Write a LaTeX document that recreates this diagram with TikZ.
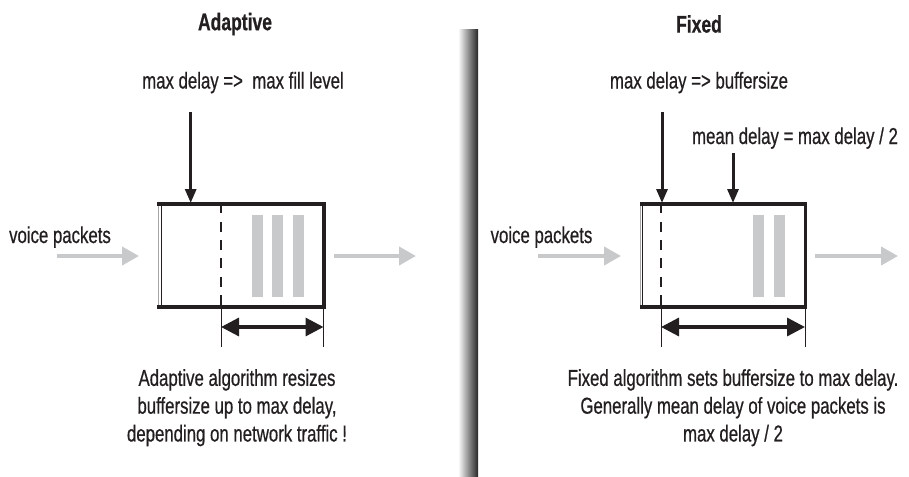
\documentclass[tikz,border=0pt]{standalone}
\usepackage{fontspec}
\setmainfont[FakeStretch=0.73,FakeBold=0.6]{Liberation Sans}
\usetikzlibrary{arrows.meta}
\definecolor{ink}{HTML}{231F20}
\definecolor{pk}{HTML}{C8C9CB}
\tikzset{
  txt/.style={inner sep=0pt, text=ink, font=\fontsize{23}{28}\selectfont, anchor=base},
  ttl/.style={inner sep=0pt, text=ink, font=\fontsize{24}{28}\selectfont\bfseries},
  para/.style={inner sep=0pt, text=ink, font=\fontsize{23}{27.8}\selectfont, align=center, anchor=north},
  down/.style={draw=ink, line width=3pt, -{Triangle[width=11pt,length=14pt]}},
  thick box/.style={draw=ink, line width=3.3pt, line join=miter},
  thinblack/.style={draw=ink, line width=1.1pt},
  thingray/.style={draw=black!35, line width=0.8pt},
  dashline/.style={draw=ink, line width=2.8pt, dash pattern=on 10pt off 8.3pt},
  ext/.style={draw=ink, line width=0.9pt},
  span/.style={draw=ink, line width=3.3pt, {Triangle[width=18pt,length=18pt]}-{Triangle[width=18pt,length=18pt]}},
  flow/.style={draw=pk, line width=4pt, -{Triangle[width=18pt,length=17pt]}},
  bar/.style={fill=pk, draw=none}
}
\begin{document}
\begin{tikzpicture}[x=1pt,y=-1pt]
\useasboundingbox (0,0) rectangle (909,476);

% divider
\shade[left color=white, right color=black!85] (458,30) rectangle (478,476);

%%%%%%%%%%%%%%%% Adaptive %%%%%%%%%%%%%%%%
\node[ttl] (tA) at (235,24) {Adaptive};
\node[txt] (mA) at (243,88.5) {max delay =>\ \ max fill level};
\coordinate (mAs) at (190.7,112);
\coordinate (bAt) at (190.7,203);
\draw[down] (mAs) -- (bAt);

% bars
\fill[bar] (252,215) rectangle (263,297);
\fill[bar] (272,215) rectangle (283,297);
\fill[bar] (293,215) rectangle (304,297);

% box
\coordinate (A1) at (157,204);
\coordinate (A2) at (324,204);
\coordinate (A3) at (324,307);
\coordinate (A4) at (157,307);
\draw[thingray] (158,204) -- (158,307);
\draw[thinblack] (161.5,204) -- (161.5,307);
\draw[thick box] (A1) -- (A2) -- (A3) -- (A4);
\coordinate (dAt) at (221,203.3);
\coordinate (dAb) at (221,306);
\draw[dashline] (dAt) -- (dAb);

% extension lines and span
\coordinate (eA1t) at (221,306);
\coordinate (eA1b) at (221,347);
\coordinate (eA2t) at (323.5,306);
\coordinate (eA2b) at (323.5,347);
\draw[ext] (eA1t) -- (eA1b);
\draw[ext] (eA2t) -- (eA2b);
\coordinate (sA1) at (221,327);
\coordinate (sA2) at (323.5,327);
\draw[span] (sA1) -- (sA2);

% voice packets
\node[txt] (vA) at (60,243) {voice packets};
\coordinate (iA1) at (57,256);
\coordinate (iA2) at (139,256);
\draw[flow] (iA1) -- (iA2);
\coordinate (oA1) at (334,256);
\coordinate (oA2) at (416,256);
\draw[flow] (oA1) -- (oA2);

\node[para] (pA) at (237,369) {Adaptive algorithm resizes\\buffersize up to max delay,\\depending on network traffic !};

%%%%%%%%%%%%%%%% Fixed %%%%%%%%%%%%%%%%
\node[ttl] (tF) at (699,24) {Fixed};
\node[txt] (mF) at (699,88.5) {max delay => buffersize};
\coordinate (mFs) at (662,112);
\coordinate (bFt) at (662,203);
\draw[down] (mFs) -- (bFt);
\node[txt] (nF) at (795,144) {mean delay = max delay / 2};
\coordinate (nFs) at (733,153);
\coordinate (nFt) at (733,203);
\draw[down] (nFs) -- (nFt);

\fill[bar] (753,215) rectangle (764,297);
\fill[bar] (774,215) rectangle (785,297);

\coordinate (F1) at (640,204);
\coordinate (F2) at (805.5,204);
\coordinate (F3) at (805.5,307);
\coordinate (F4) at (640,307);
\draw[thingray] (640,204) -- (640,307);
\draw[thinblack] (642.7,204) -- (642.7,307);
\draw[thick box] (F1) -- (F2) -- (F3) -- (F4);
\coordinate (dFt) at (661,203.3);
\coordinate (dFb) at (661,306);
\draw[dashline] (dFt) -- (dFb);

\coordinate (eF1t) at (661,306);
\coordinate (eF1b) at (661,347);
\coordinate (eF2t) at (805,306);
\coordinate (eF2b) at (805,347);
\draw[ext] (eF1t) -- (eF1b);
\draw[ext] (eF2t) -- (eF2b);
\coordinate (sF1) at (661,327);
\coordinate (sF2) at (805,327);
\draw[span] (sF1) -- (sF2);

\node[txt] (vF) at (541.5,243) {voice packets};
\coordinate (iF1) at (538,256);
\coordinate (iF2) at (621,256);
\draw[flow] (iF1) -- (iF2);
\coordinate (oF1) at (815,256);
\coordinate (oF2) at (898,256);
\draw[flow] (oF1) -- (oF2);

\node[para] (pF) at (733,369) {Fixed algorithm sets buffersize to max delay.\\Generally mean delay of voice packets is\\max delay / 2};
\end{tikzpicture}
\end{document}
